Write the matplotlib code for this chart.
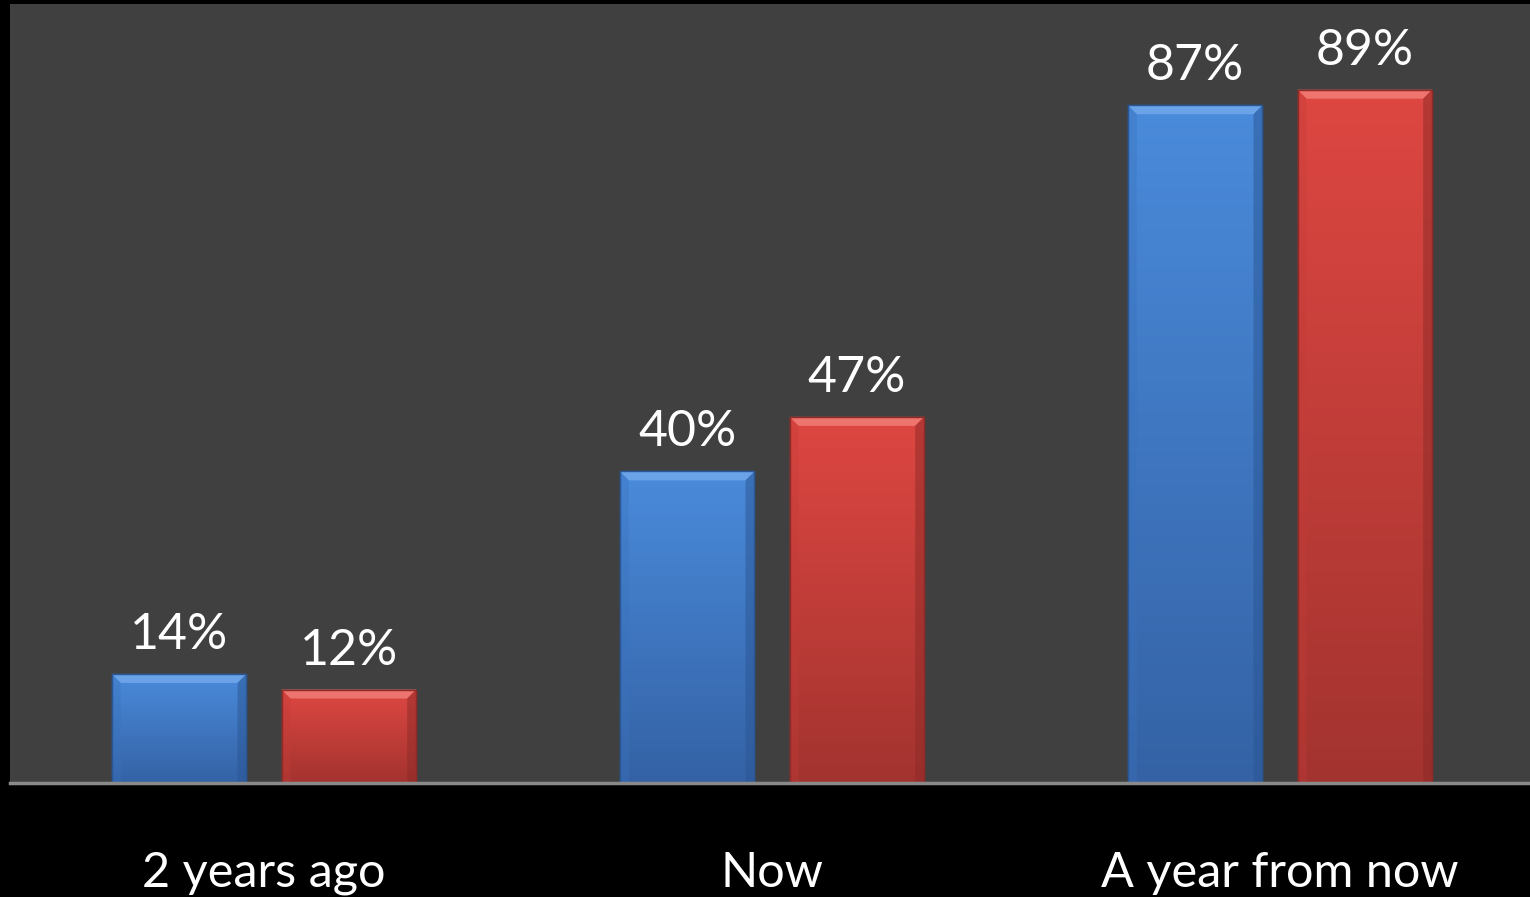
import matplotlib
matplotlib.use("Agg")
import matplotlib.pyplot as plt
import numpy as np
from matplotlib.colors import LinearSegmentedColormap
from matplotlib.patches import Polygon

categories = ["2 years ago", "Now", "A year from now"]
series_a = [0.14, 0.40, 0.87]
series_b = [0.12, 0.47, 0.89]
labels_a = ["14%", "40%", "87%"]
labels_b = ["12%", "47%", "89%"]

W, H = 1530, 897
fig = plt.figure(figsize=(W / 100, H / 100), dpi=100)
fig.patch.set_facecolor("black")
ax = fig.add_axes([10 / W, 1 - 783 / H, 1524 / W, 779 / H])
ax.set_facecolor("#404040")
ax.set_xlim(-0.5, 2.5)
ax.set_ylim(0, 1.0)

FONT = "Lato"
bw = 0.265
off = 0.167
x = np.arange(len(categories))

styles = [
    dict(top="#4a8bdb", bot="#3462a5", edge="#2b5694", hl="#6fa6ea", side="#3a72bd"),
    dict(top="#de4742", bot="#a3332f", edge="#8c2b28", hl="#f07a74", side="#c43c38"),
]

px_y = 1.0 / 779.0
px_x = 3.0 / 1524.0

for si, (vals, labs, st, dx) in enumerate([(series_a, labels_a, styles[0], -off),
                                            (series_b, labels_b, styles[1], off)]):
    bars = ax.bar(x + dx, vals, width=bw, color=st["top"], edgecolor=st["edge"],
                  linewidth=1.0, zorder=2)
    cmap = LinearSegmentedColormap.from_list("g%d" % si, [st["bot"], st["top"]])
    for b, v, lab in zip(bars, vals, labs):
        x0 = b.get_x(); x1 = x0 + b.get_width()
        grad = np.linspace(0, 1, 256).reshape(-1, 1)
        im = ax.imshow(grad, cmap=cmap, origin="lower", aspect="auto",
                       extent=[x0, x1, 0, v], zorder=2.1)
        im.set_clip_path(b)
        bh = 9 * px_y
        bx = 9 * px_x
        top_poly = Polygon([[x0, v], [x1, v], [x1 - bx, v - bh], [x0 + bx, v - bh]],
                           closed=True, facecolor=st["hl"], edgecolor="none", zorder=2.2, alpha=0.9)
        ax.add_patch(top_poly)
        left_poly = Polygon([[x0, v], [x0 + bx, v - bh], [x0 + bx, 0], [x0, 0]],
                            closed=True, facecolor=st["side"], edgecolor="none", zorder=2.2, alpha=0.35)
        ax.add_patch(left_poly)
        right_poly = Polygon([[x1, v], [x1 - bx, v - bh], [x1 - bx, 0], [x1, 0]],
                             closed=True, facecolor=st["edge"], edgecolor="none", zorder=2.2, alpha=0.5)
        ax.add_patch(right_poly)
        ax.add_patch(plt.Rectangle((x0, 0), x1 - x0, v, fill=False, edgecolor=st["edge"],
                                   linewidth=1.0, zorder=2.3))
        ax.annotate(lab, (b.get_x() + b.get_width() / 2, v), xytext=(0, 25),
                    textcoords="offset pixels", ha="center", va="baseline",
                    color="white", fontsize=36, family=FONT, zorder=3)

for s in ["top", "left", "right"]:
    ax.spines[s].set_visible(False)
ax.spines["bottom"].set_color("#8a8a8a")
ax.spines["bottom"].set_linewidth(2.5)
ax.set_yticks([])
ax.set_xticks(x)
ax.set_xticklabels(categories, fontsize=35, family=FONT, color="white")
ax.tick_params(axis="x", length=0, pad=49)

fig.savefig("out.png", dpi=100, facecolor=fig.get_facecolor())
